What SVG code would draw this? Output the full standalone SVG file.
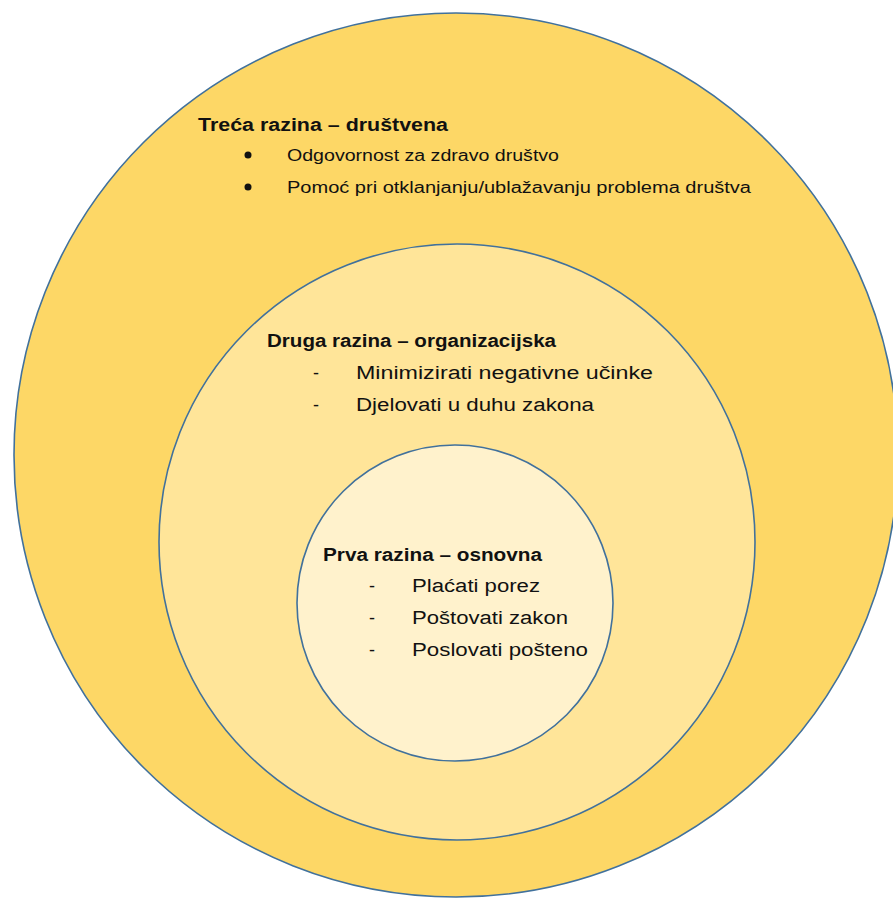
<svg xmlns="http://www.w3.org/2000/svg" width="893" height="898" viewBox="0 0 893 898">
<style>
.ring{stroke:#41719C;stroke-width:1.6}
text{font-family:"Liberation Sans",Arial,sans-serif;fill:#111}
.h{font-weight:bold;font-size:18px}
.b{font-size:16px}
.i{font-size:18px}
</style>
<rect width="893" height="898" fill="#fff"/>
<g id="outer">
<circle class="ring" cx="456" cy="455" r="442" fill="#FDD766"/>
<text class="h" x="198" y="131" textLength="250" lengthAdjust="spacingAndGlyphs">Treća razina – društvena</text>
<circle cx="248" cy="155" r="3.5" fill="#111"/>
<circle cx="248" cy="187" r="3.5" fill="#111"/>
<text class="b" x="287" y="161" textLength="272" lengthAdjust="spacingAndGlyphs">Odgovornost za zdravo društvo</text>
<text class="b" x="287" y="193" textLength="464" lengthAdjust="spacingAndGlyphs">Pomoć pri otklanjanju/ublažavanju  problema društva</text>
</g>
<g id="middle">
<circle class="ring" cx="457" cy="542" r="298" fill="#FFE599"/>
<text class="h" x="267" y="347" textLength="289" lengthAdjust="spacingAndGlyphs">Druga razina – organizacijska</text>
<text class="i" x="313" y="379">-</text>
<text class="i" x="313" y="411">-</text>
<text class="i" x="356" y="379" textLength="297" lengthAdjust="spacingAndGlyphs">Minimizirati negativne učinke</text>
<text class="i" x="356" y="411" textLength="238" lengthAdjust="spacingAndGlyphs">Djelovati u duhu zakona</text>
</g>
<g id="inner">
<circle class="ring" cx="455" cy="603" r="158" fill="#FFF2CC"/>
<text class="h" x="323" y="561" textLength="219" lengthAdjust="spacingAndGlyphs">Prva razina – osnovna</text>
<text class="i" x="369" y="592">-</text>
<text class="i" x="369" y="624">-</text>
<text class="i" x="369" y="656">-</text>
<text class="i" x="412" y="592" textLength="128" lengthAdjust="spacingAndGlyphs">Plaćati porez</text>
<text class="i" x="412" y="624" textLength="156" lengthAdjust="spacingAndGlyphs">Poštovati zakon</text>
<text class="i" x="412" y="656" textLength="176" lengthAdjust="spacingAndGlyphs">Poslovati pošteno</text>
</g>
<g id="connectors"></g>
</svg>
